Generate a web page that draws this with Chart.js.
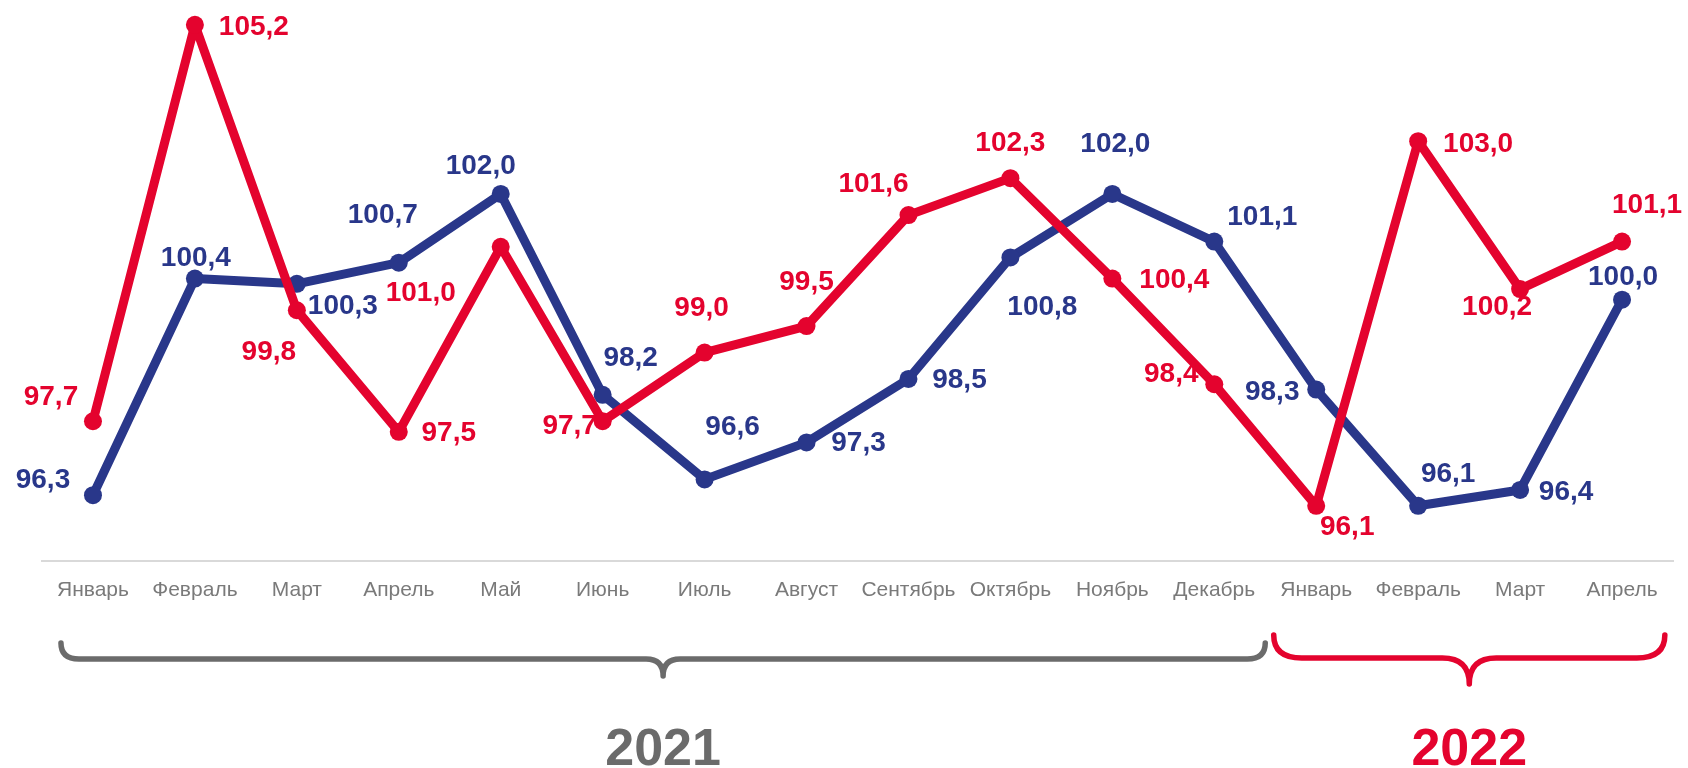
<!DOCTYPE html>
<html lang="ru">
<head>
<meta charset="utf-8">
<script src="https://cdn.jsdelivr.net/npm/chart.js@4.4.1/dist/chart.umd.min.js"></script>
<style>
	html, body { margin: 0; padding: 0; background: #fff; }
	#wrap { width: 1688px; height: 768px; }
</style>
</head>
<body>
<div id="wrap"><canvas id="chart"></canvas></div>
<script>
const months = ["Январь", "Февраль", "Март", "Апрель", "Май", "Июнь", "Июль", "Август",
	"Сентябрь", "Октябрь", "Ноябрь", "Декабрь", "Январь", "Февраль", "Март", "Апрель"];
const years = ["2021", "2022"];
const yearFirst = [0, 12];
const yearLast = [11, 15];
const redValues = [97.7, 105.2, 99.8, 97.5, 101.0, 97.7, 99.0, 99.5, 101.6, 102.3, 100.4, 98.4, 96.1, 103.0, 100.2, 101.1];
const blueValues = [96.3, 100.4, 100.3, 100.7, 102.0, 98.2, 96.6, 97.3, 98.5, 100.8, 102.0, 101.1, 98.3, 96.1, 96.4, 100.0];

const RED = "#e4032e";
const BLUE = "#29378a";
const GREY = "#6b6b6b";

// where each value label sits, relative to its point (px)
const redLabelPos = [[-42, -24], [59, 2], [-28, 42], [50, 1], [-80, 46], [-33, 5], [-3, -44], [0, -44],
	[-35, -31], [0, -35], [62, 2], [-43, -10], [31, 21], [60, 3], [-23, 18], [25, -36]];
const blueLabelPos = [[-50, -15], [1, -20], [46, 22], [-16, -47], [-20, -28], [28, -37], [28, -52], [52, 1],
	[51, 1], [32, 50], [3, -50], [48, -24], [-44, 3], [30, -32], [46, 2], [1, -22]];

// brace shapes: ends in fractions of a category step, heights in px
const braceLook = [
	{ color: GREY, left: 0.314, right: 0.5, top: 643, mid: 659, tip: 676, endR: 18, tipR: 17 },
	{ color: RED, left: 0.417, right: 0.42, top: 635, mid: 658, tip: 684, endR: 28, tipR: 27 }
];

function fmt(v) {
	return v.toFixed(1).replace(".", ",");
}

const pointLabels = {
	id: "pointLabels",
	afterDatasetsDraw(chart) {
		const ctx = chart.ctx;
		ctx.save();
		ctx.font = 'bold 28px "Liberation Sans", Arial, sans-serif';
		ctx.textAlign = "center";
		ctx.textBaseline = "middle";
		chart.data.datasets.forEach((ds, i) => {
			const meta = chart.getDatasetMeta(i);
			ctx.fillStyle = ds.borderColor;
			meta.data.forEach((pt, j) => {
				const [dx, dy] = ds.labelPos[j];
				ctx.fillText(fmt(ds.data[j]), pt.x + dx, pt.y + dy);
			});
		});
		ctx.restore();
	}
};

const yearBraces = {
	id: "yearBraces",
	afterDraw(chart) {
		const xs = chart.scales.x;
		const ctx = chart.ctx;
		const step = xs.getPixelForValue(1) - xs.getPixelForValue(0);
		ctx.save();
		years.forEach((year, i) => {
			const b = braceLook[i];
			const x0 = xs.getPixelForValue(yearFirst[i]) - b.left * step;
			const x1 = xs.getPixelForValue(yearLast[i]) + b.right * step;
			const xc = (x0 + x1) / 2;
			ctx.beginPath();
			ctx.moveTo(x0, b.top);
			ctx.quadraticCurveTo(x0, b.mid, x0 + b.endR, b.mid);
			ctx.lineTo(xc - b.tipR, b.mid);
			ctx.quadraticCurveTo(xc, b.mid, xc, b.tip);
			ctx.quadraticCurveTo(xc, b.mid, xc + b.tipR, b.mid);
			ctx.lineTo(x1 - b.endR, b.mid);
			ctx.quadraticCurveTo(x1, b.mid, x1, b.top);
			ctx.strokeStyle = b.color;
			ctx.lineWidth = 5.5;
			ctx.lineCap = "round";
			ctx.lineJoin = "round";
			ctx.stroke();

			ctx.fillStyle = b.color;
			ctx.font = 'bold 52px "Liberation Sans", Arial, sans-serif';
			ctx.textAlign = "center";
			ctx.textBaseline = "alphabetic";
			ctx.fillText(year, xc, 765);
		});
		ctx.restore();
	}
};

function lineSet(values, color, labelPos) {
	return {
		data: values,
		labelPos: labelPos,
		borderColor: color,
		backgroundColor: color,
		borderWidth: 9,
		borderCapStyle: "round",
		borderJoinStyle: "round",
		pointRadius: 9,
		pointBorderWidth: 0,
		pointBackgroundColor: color,
		tension: 0,
		clip: false
	};
}

const ctx = document.getElementById("chart").getContext("2d");
new Chart(ctx, {
	type: "line",
	data: {
		labels: months,
		datasets: [
			lineSet(redValues, RED, redLabelPos),
			lineSet(blueValues, BLUE, blueLabelPos)
		]
	},
	options: {
		responsive: true,
		maintainAspectRatio: false,
		animation: false,
		events: [],
		layout: { padding: { left: 42, right: 15, top: 7, bottom: 149.5 } },
		plugins: {
			legend: { display: false },
			tooltip: { enabled: false }
		},
		scales: {
			x: {
				offset: true,
				grid: { display: false, drawTicks: false },
				border: { display: true, color: "#d9d9d9", width: 2 },
				ticks: {
					color: "#7a7a7a",
					padding: 16,
					maxRotation: 0,
					autoSkip: false,
					font: { family: '"Liberation Sans", Arial, sans-serif', size: 21, lineHeight: 1.2 }
				}
			},
			y: {
				display: false,
				min: 95.05,
				max: 105.5
			}
		}
	},
	plugins: [pointLabels, yearBraces]
});
</script>
</body>
</html>
